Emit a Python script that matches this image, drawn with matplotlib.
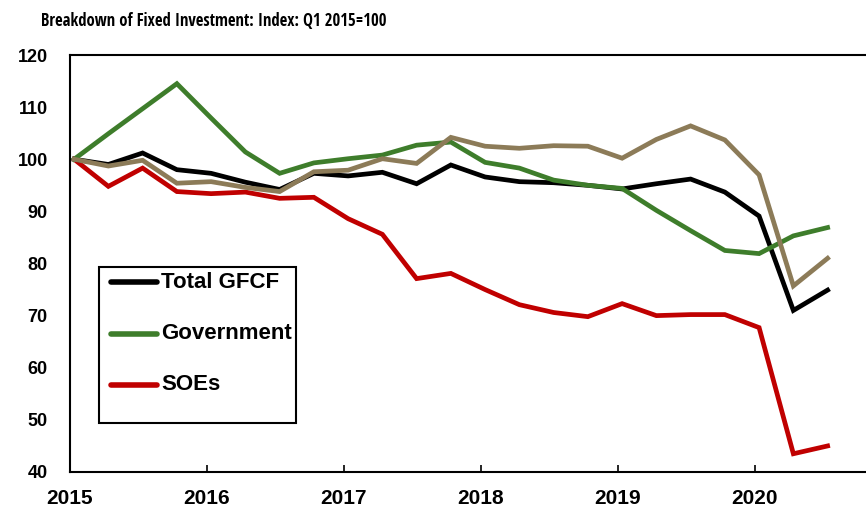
import matplotlib
matplotlib.use("Agg")
import matplotlib.pyplot as plt
from matplotlib.lines import Line2D
from matplotlib.patches import Rectangle
from matplotlib import font_manager
from matplotlib.font_manager import FontProperties

# ---- data (quarterly, Q1 2015 .. Q3 2020) ----
quarters = [f"{y}Q{q}" for y in range(2015, 2021) for q in range(1, 5)][:23]
total_gfcf = [100, 99.0, 101.2, 98.0, 97.3, 95.6, 94.2, 97.3, 96.8, 97.5, 95.3, 98.9,
              96.6, 95.7, 95.5, 95.0, 94.3, 95.3, 96.2, 93.7, 89.1, 71.0, 74.9]
government = [100, 104.9, 109.7, 114.5, 107.9, 101.4, 97.3, 99.3, 100.1, 100.8, 102.7, 103.3,
              99.4, 98.3, 96.0, 95.0, 94.4, 90.2, 86.3, 82.5, 81.9, 85.3, 86.9]
soes = [100, 94.8, 98.3, 93.8, 93.4, 93.7, 92.5, 92.7, 88.6, 85.6, 77.1, 78.1,
        75.0, 72.1, 70.6, 69.8, 72.3, 70.0, 70.2, 70.2, 67.7, 43.5, 45.0]
other = [100, 98.7, 99.8, 95.4, 95.7, 94.6, 93.8, 97.6, 97.9, 100.1, 99.2, 104.2,
         102.5, 102.1, 102.6, 102.5, 100.2, 103.8, 106.4, 103.7, 97.0, 75.7, 81.0]
year_ticks = [2015, 2016, 2017, 2018, 2019, 2020]
y_ticks = [40, 50, 60, 70, 80, 90, 100, 110, 120]
title = "Breakdown of Fixed Investment: Index: Q1 2015=100"
legend_labels = ["Total GFCF", "Government", "SOEs"]

# convert quarter labels to fractional years
xs = [int(q[:4]) + (int(q[-1]) - 1) * 0.25 + 0.03 for q in quarters]

W, H = 866, 509
fig = plt.figure(figsize=(W / 100, H / 100), dpi=100)
ax = fig.add_axes([70 / W, (H - 472) / H, (W - 70) / W, (472 - 55) / H])

colors = {"Total GFCF": "#000000", "Government": "#3e7d2b", "SOEs": "#c00000"}
lw = 3.4
ax.plot(xs, total_gfcf, color=colors["Total GFCF"], lw=lw, solid_joinstyle="miter", zorder=3)
ax.plot(xs, government, color=colors["Government"], lw=lw, solid_joinstyle="miter", zorder=4)
ax.plot(xs, soes, color=colors["SOEs"], lw=lw, solid_joinstyle="miter", zorder=2)
ax.plot(xs, other, color="#8c7b58", lw=lw, solid_joinstyle="miter", zorder=5)

ax.set_ylim(40, 120)
ax.set_xlim(2015, 2015 + 796 / 137.0)
ax.set_yticks(y_ticks)
ax.set_xticks(year_ticks)

font = ["Liberation Sans", "DejaVu Sans"]
ax.set_yticklabels([str(v) for v in y_ticks], fontsize=13, fontweight="bold", family=font)
ax.set_xticklabels([str(v) for v in year_ticks], fontsize=15, fontweight="bold", family=font)
ax.tick_params(axis="y", length=0, pad=16)
ax.tick_params(axis="x", direction="in", length=5, width=1.2, pad=12)

for s in ["left", "bottom", "top"]:
    ax.spines[s].set_linewidth(1.5)
    ax.spines[s].set_color("black")
ax.spines["right"].set_visible(False)

# ---- legend box drawn in figure pixel coordinates ----
def fx(px):
    return px / W

def fy(py):
    return 1 - py / H

fig.patches.append(Rectangle((fx(99), fy(423)), fx(296) - fx(99), fy(267) - fy(423),
                             transform=fig.transFigure, facecolor="white",
                             edgecolor="black", linewidth=1.5, zorder=10))
for lab, ypx in zip(legend_labels, [282, 333.5, 385]):
    fig.add_artist(Line2D([fx(111), fx(157)], [fy(ypx), fy(ypx)], transform=fig.transFigure,
                          color=colors[lab], lw=4, solid_capstyle="round", zorder=11))
    fig.text(fx(161), fy(ypx), lab, fontsize=16, fontweight="bold", family=font,
             va="center", ha="left", zorder=12)

# ---- title: prefer a narrow/condensed bold face, then fit to reference width ----
def _is_bold(w):
    try:
        return int(w) >= 600
    except (TypeError, ValueError):
        return str(w).lower() in ("bold", "semibold", "demibold", "heavy", "black", "extra bold")

cands = [f for f in font_manager.fontManager.ttflist
         if (("Narrow" in f.name) or ("Condensed" in f.name) or ("condensed" in str(f.stretch)))
         and _is_bold(f.weight)]
pref = ["Liberation Sans Narrow", "Open Sans Condensed", "Roboto Condensed", "Noto Sans", "DejaVu Sans"]
cands.sort(key=lambda f: next((i for i, p in enumerate(pref) if f.name.startswith(p)), 99))
if cands:
    tprop = FontProperties(fname=cands[0].fname)
else:
    tprop = FontProperties(family="Liberation Sans", weight="bold")
tprop.set_size(14)
t = fig.text(41 / W, 1 - 21 / H, title, fontproperties=tprop, va="center", ha="left")
fig.canvas.draw()
wpx = t.get_window_extent(renderer=fig.canvas.get_renderer()).width
tprop.set_size(min(14.5, 14 * 347.0 / wpx))
t.set_fontproperties(tprop)

fig.savefig("out.png", dpi=100)
